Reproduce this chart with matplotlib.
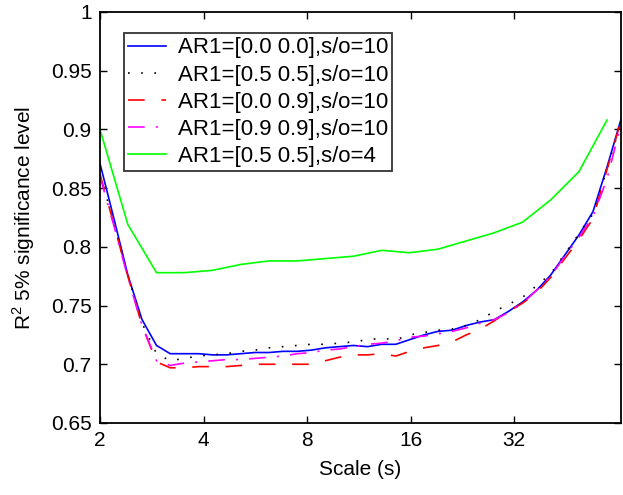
import matplotlib
matplotlib.use('Agg')
import matplotlib.pyplot as plt

plt.rcParams['font.family'] = ['Liberation Sans', 'DejaVu Sans']
plt.rcParams['mathtext.fontset'] = 'custom'
plt.rcParams['mathtext.rm'] = 'Liberation Sans'
plt.rcParams['lines.scale_dashes'] = False

# Scales (s)
scales = [2.00, 2.20, 2.41, 2.65, 2.92, 3.20, 3.52, 3.87, 4.25, 4.67,
          5.13, 5.64, 6.20, 6.81, 7.49, 8.22, 9.04, 9.93, 10.91, 11.99,
          13.18, 14.48, 15.91, 17.49, 19.21, 21.11, 23.20, 25.49, 28.01, 30.78,
          33.83, 37.17, 40.85, 44.88, 49.32, 54.20, 59.55, 65.44]
scales_coarse = [2.00, 2.41, 2.92, 3.52, 4.25, 5.13, 6.20, 7.49, 9.04, 10.91,
                 13.18, 15.91, 19.21, 23.20, 28.01, 33.83, 40.85, 49.32, 59.55]

ar_00_00 = [0.871, 0.823, 0.776, 0.738, 0.716, 0.709, 0.709, 0.709, 0.708, 0.708,
            0.709, 0.710, 0.710, 0.711, 0.711, 0.712, 0.714, 0.715, 0.716, 0.715,
            0.717, 0.717, 0.721, 0.725, 0.728, 0.729, 0.733, 0.736, 0.738, 0.745,
            0.753, 0.763, 0.776, 0.793, 0.810, 0.830, 0.868, 0.909]
ar_05_05 = [0.862, 0.819, 0.776, 0.735, 0.709, 0.703, 0.705, 0.707, 0.708, 0.709,
            0.711, 0.712, 0.714, 0.715, 0.716, 0.717, 0.717, 0.718, 0.719, 0.721,
            0.722, 0.721, 0.725, 0.727, 0.729, 0.730, 0.733, 0.738, 0.745, 0.751,
            0.757, 0.767, 0.777, 0.794, 0.811, 0.828, 0.866, 0.907]
ar_00_09 = [0.862, 0.818, 0.775, 0.733, 0.702, 0.697, 0.697, 0.698, 0.698, 0.698,
            0.699, 0.700, 0.700, 0.700, 0.700, 0.700, 0.703, 0.706, 0.708, 0.708,
            0.709, 0.707, 0.711, 0.714, 0.716, 0.719, 0.725, 0.730, 0.737, 0.745,
            0.752, 0.761, 0.774, 0.790, 0.806, 0.824, 0.866, 0.908]
ar_09_09 = [0.860, 0.817, 0.774, 0.733, 0.703, 0.699, 0.701, 0.702, 0.703, 0.704,
            0.704, 0.705, 0.706, 0.707, 0.709, 0.710, 0.712, 0.713, 0.715, 0.717,
            0.718, 0.720, 0.723, 0.724, 0.726, 0.728, 0.731, 0.735, 0.738, 0.744,
            0.752, 0.763, 0.775, 0.792, 0.808, 0.826, 0.858, 0.905]
ar_05_05_so4 = [0.900, 0.819, 0.778, 0.778, 0.780, 0.785, 0.788, 0.788, 0.790, 0.792,
                0.797, 0.795, 0.798, 0.805, 0.812, 0.821, 0.840, 0.864, 0.908]

labels = ['AR1=[0.0 0.0],s/o=10', 'AR1=[0.5 0.5],s/o=10', 'AR1=[0.0 0.9],s/o=10',
          'AR1=[0.9 0.9],s/o=10', 'AR1=[0.5 0.5],s/o=4']

fig = plt.figure(figsize=(6.23, 4.95), dpi=100)
ax = fig.add_axes([0.1605, 0.1455, 0.8365, 0.8303])

lw = 1.2
ax.plot(scales, ar_00_00, color='#0000ff', lw=lw, label=labels[0])
ax.plot(scales, ar_05_05, color='black', lw=lw, dashes=(1.2, 8.3), label=labels[1])
ax.plot(scales, ar_00_09, color='#ff0000', lw=lw, dashes=(12, 12), label=labels[2])
ax.plot(scales, ar_09_09, color='#ff00ff', lw=lw, dashes=(12, 8, 1.5, 8), label=labels[3])
ax.plot(scales_coarse, ar_05_05_so4, color='#00ff00', lw=lw, label=labels[4])

ax.set_xscale('log', base=2)
ax.set_xlim(2, 65.44)
ax.set_ylim(0.65, 1.0)
ax.set_xticks([2, 4, 8, 16, 32])
ax.set_xticklabels(['2', '4', '8', '16', '32'])
ax.minorticks_off()
yt = [0.65, 0.7, 0.75, 0.8, 0.85, 0.9, 0.95, 1.0]
ax.set_yticks(yt)
ax.set_yticklabels(['0.65', '0.7', '0.75', '0.8', '0.85', '0.9', '0.95', '1'])
ax.tick_params(direction='in', length=5, width=1, labelsize=15, top=True, right=True, pad=6)
for sp in ax.spines.values():
    sp.set_linewidth(1.3)

ax.set_xlabel('Scale (s)', fontsize=15, labelpad=7)
ax.set_ylabel(r'R$^{\mathregular{2}}$ 5% significance level', fontsize=15, labelpad=10)

leg = ax.legend(loc='upper left', bbox_to_anchor=(0.046, 0.948), fontsize=16,
                frameon=True, fancybox=False, edgecolor='black', borderpad=0.18,
                labelspacing=0.28, handlelength=1.7, handletextpad=0.55, borderaxespad=0)
leg.get_frame().set_linewidth(1.3)

fig.savefig('out.png', dpi=100)
